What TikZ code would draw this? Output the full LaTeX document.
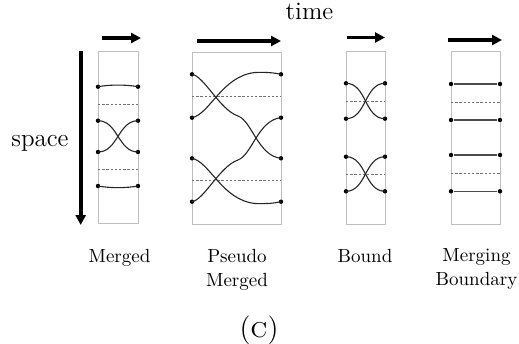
\documentclass[tikz,border=0pt]{standalone}
\usetikzlibrary{arrows.meta}
\begin{document}
\begin{tikzpicture}[x=0.5pt,y=-0.5pt,
  frame/.style={draw=black!25,line width=0.5pt},
  sep/.style={draw=black!55,line width=0.35pt,dash pattern=on 1.2pt off 0.9pt},
  pt/.style={circle,fill=black,inner sep=0pt,minimum size=2.2pt},
  strand/.style={draw=black!85,line width=0.55pt},
  flat/.style={draw=black!70,line width=0.7pt},
  dirarrow/.style={line width=1.8pt,-{Triangle[length=5pt,width=5pt]}},
  lbl/.style={font=\fontsize{9.5}{12}\selectfont,align=center,anchor=north,inner sep=0pt},
  big/.style={font=\fontsize{12.5}{15}\selectfont,anchor=base}]
\useasboundingbox (0,0) rectangle (519,343);

% axis labels
\node[big] (time) at (309.5,19.5) {time};
\node[big] (space) at (40,146.5) {space};
\coordinate (s0) at (80.7,51);
\coordinate (s1) at (80.7,225);
\draw[dirarrow] (s0) -- (s1);

% ---------- Merged ----------
\draw[frame] (98,51) rectangle (138,223);
\coordinate (a0) at (102,38); \coordinate (a1) at (141,38);
\draw[dirarrow] (a0) -- (a1);
\draw[sep] (98,104) -- (138,104);
\draw[sep] (98,169.5) -- (138,169.5);
\node[pt] (m1l) at (98,86.7) {}; \node[pt] (m1r) at (138,86.7) {};
\node[pt] (m2l) at (98,120.7) {}; \node[pt] (m2r) at (138,120.7) {};
\node[pt] (m3l) at (98,152) {}; \node[pt] (m3r) at (138,152) {};
\node[pt] (m4l) at (98,186) {}; \node[pt] (m4r) at (138,186) {};
\draw[strand] (m1l.center) .. controls (110,84.5) and (126,84.5) .. (m1r.center);
\draw[strand] (m4l.center) .. controls (110,188.2) and (126,188.2) .. (m4r.center);
\draw[strand] (m2l.center) to[out=0,in=180] (m3r.center);
\draw[strand] (m3l.center) to[out=0,in=180] (m2r.center);

% ---------- Pseudo Merged ----------
\draw[frame] (192,52) rectangle (281,224);
\coordinate (b0) at (197,41); \coordinate (b1) at (281,41);
\draw[dirarrow] (b0) -- (b1);
\draw[sep] (192,96.3) -- (281,96.3);
\draw[sep] (192,180.3) -- (281,180.3);
\node[pt] (p1l) at (192,74.3) {}; \node[pt] (p1r) at (281,74.3) {};
\node[pt] (p2l) at (192,117.7) {}; \node[pt] (p2r) at (281,117.7) {};
\node[pt] (p3l) at (192,158.3) {}; \node[pt] (p3r) at (281,158.3) {};
\node[pt] (p4l) at (192,201.7) {}; \node[pt] (p4r) at (281,201.7) {};
\draw[strand] (p1l.center) .. controls (204,76) and (220,110) .. (238,116)
  .. controls (252,121) and (258,156) .. (p3r.center);
\draw[strand] (p4l.center) .. controls (204,200) and (220,166) .. (238,160)
  .. controls (252,155) and (258,120) .. (p2r.center);
\draw[strand] (p2l.center) .. controls (210,114) and (222,76) .. (255,72.5)
  .. controls (268,72) and (275,73) .. (p1r.center);
\draw[strand] (p3l.center) .. controls (210,162) and (222,200) .. (255,203.5)
  .. controls (268,204) and (275,203) .. (p4r.center);

% ---------- Bound ----------
\draw[frame] (346,51) rectangle (385,224);
\coordinate (c0) at (346.5,37.5); \coordinate (c1) at (385,37.5);
\draw[dirarrow] (c0) -- (c1);
\draw[sep] (346,101) -- (385,101);
\draw[sep] (346,174.3) -- (385,174.3);
\node[pt] (q1l) at (346,83.3) {}; \node[pt] (q1r) at (385,83.3) {};
\node[pt] (q2l) at (346,118.7) {}; \node[pt] (q2r) at (385,118.7) {};
\node[pt] (q3l) at (346,156.7) {}; \node[pt] (q3r) at (385,156.7) {};
\node[pt] (q4l) at (346,191.3) {}; \node[pt] (q4r) at (385,191.3) {};
\draw[strand] (q1l.center) to[out=0,in=180] (q2r.center);
\draw[strand] (q2l.center) to[out=0,in=180] (q1r.center);
\draw[strand] (q3l.center) to[out=0,in=180] (q4r.center);
\draw[strand] (q4l.center) to[out=0,in=180] (q3r.center);

% ---------- Merging Boundary ----------
\draw[frame] (451,51) rectangle (500,224);
\coordinate (d0) at (448,40); \coordinate (d1) at (502,40);
\draw[dirarrow] (d0) -- (d1);
\draw[sep] (451,102.3) -- (500,102.3);
\draw[sep] (451,173.3) -- (500,173.3);
\node[pt] (r1l) at (451,84) {}; \node[pt] (r1r) at (500,84) {};
\node[pt] (r2l) at (451,120) {}; \node[pt] (r2r) at (500,120) {};
\node[pt] (r3l) at (451,155) {}; \node[pt] (r3r) at (500,155) {};
\node[pt] (r4l) at (451,191.3) {}; \node[pt] (r4r) at (500,191.3) {};
\draw[flat] (r1l) -- (r1r);
\draw[flat] (r2l) -- (r2r);
\draw[flat] (r3l) -- (r3r);
\draw[flat] (r4l) -- (r4r);

% ---------- labels ----------
\node[lbl] (l1) at (119.5,248.5) {Merged};
\node[lbl] (l2) at (237,248.5) {Pseudo\\Merged};
\node[lbl] (l3) at (365,248.5) {Bound};
\node[lbl] (l4) at (476.5,248.5) {Merging\\Boundary};
\node[font=\fontsize{14.4}{17}\selectfont,anchor=base] (cap) at (259,337) {(\textsc{c})};
\end{tikzpicture}
\end{document}
